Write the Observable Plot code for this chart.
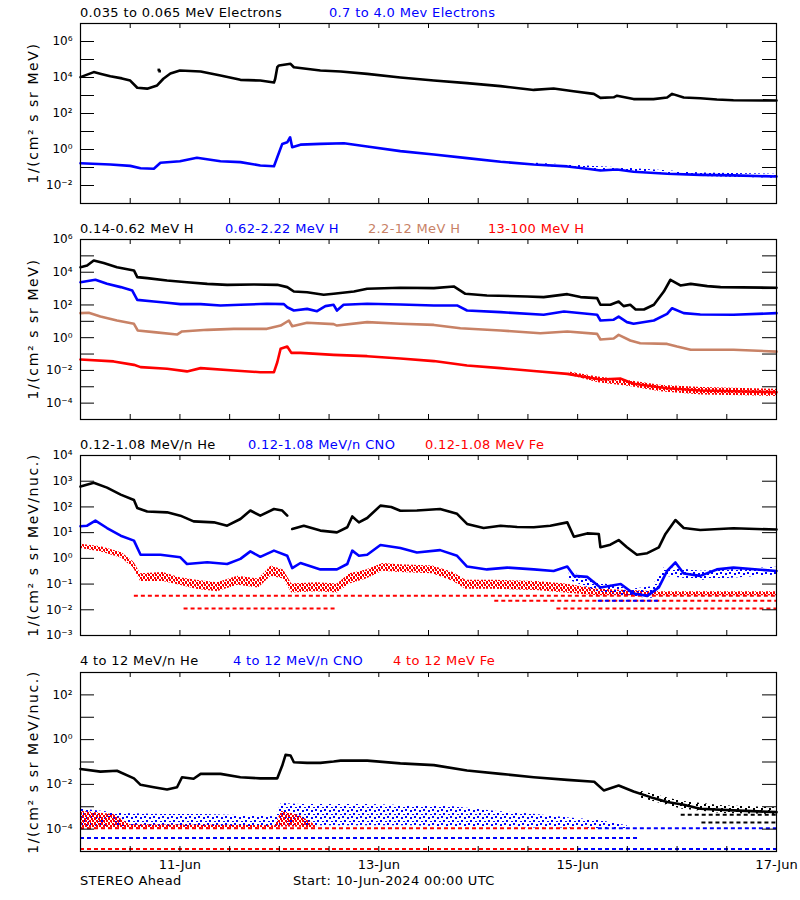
<!DOCTYPE html>
<html><head><meta charset="utf-8">
<script src="https://cdn.jsdelivr.net/npm/d3@7"></script>
<script src="https://cdn.jsdelivr.net/npm/@observablehq/plot@0.6"></script>
<style>
body{margin:0;background:#fff;font-family:"DejaVu Sans",sans-serif}
#chart{position:relative;width:800px;height:900px;overflow:hidden;background:#fff}
#chart svg.p{position:absolute;left:0}
.t{position:absolute;font-size:13px;line-height:16px;white-space:nowrap;letter-spacing:0.35px}
.yl{position:absolute;left:33px;font-size:14px;line-height:16px;white-space:nowrap;letter-spacing:1.6px;transform:translate(-50%,-50%) rotate(-90deg)}
</style></head><body>
<svg width="0" height="0" style="position:absolute">
 <defs>
  <pattern id="spRed" width="7" height="5" patternUnits="userSpaceOnUse">
   <rect x="0" y="0" width="2" height="2" fill="#ff0000"/><rect x="3" y="0" width="2" height="2" fill="#ff0000"/>
   <rect x="5" y="2" width="2" height="2" fill="#ff0000"/><rect x="1" y="2" width="2" height="2" fill="#ff0000"/>
   <rect x="3" y="4" width="2" height="1" fill="#ff0000"/><rect x="6" y="4" width="1" height="1" fill="#ff0000"/>
  </pattern>
  <pattern id="spBlue" width="9" height="7" patternUnits="userSpaceOnUse">
   <rect x="0" y="0" width="2" height="2" fill="#0000ff"/><rect x="5" y="1" width="2" height="2" fill="#0000ff"/>
   <rect x="2" y="4" width="2" height="2" fill="#0000ff"/><rect x="7" y="5" width="2" height="1" fill="#0000ff"/>
  </pattern>
  <pattern id="spBlack" width="8" height="6" patternUnits="userSpaceOnUse">
   <rect x="0" y="0" width="2" height="2" fill="#000"/><rect x="4" y="2" width="2" height="2" fill="#000"/>
   <rect x="1" y="4" width="2" height="2" fill="#000"/>
  </pattern>
 </defs>
</svg>
<div id="chart"></div>
<script>
// ---- colours ----
const BLACK = "#000000", BLUE = "#0000ff", BROWN = "#c88266", RED = "#ff0000";

// ---- x axis (hours since 10-Jun-2024 00:00 UTC) ----
const xTickHours = [12,24,36,48,60,72,84,96,108,120,132,144,156];
const xLabelHours = [24,72,120,168];
const xLabelText = ["11-Jun","13-Jun","15-Jun","17-Jun"];

// ---- titles ----
const titles1 = [["0.035 to 0.065 MeV Electrons",80,BLACK],["0.7 to 4.0 Mev Electrons",329,BLUE]];
const titles2 = [["0.14-0.62 MeV H",80,BLACK],["0.62-2.22 MeV H",225,BLUE],["2.2-12 MeV H",368,BROWN],["13-100 MeV H",488,RED]];
const titles3 = [["0.12-1.08 MeV/n He",80,BLACK],["0.12-1.08 MeV/n CNO",248,BLUE],["0.12-1.08 MeV Fe",425,RED]];
const titles4 = [["4 to 12 MeV/n He",80,BLACK],["4 to 12 MeV/n CNO",233,BLUE],["4 to 12 MeV Fe",393,RED]];

// ---- y axis exponents ----
const p1Domain = [-3,7], p1Labels = [6,4,2,0,-2], p1Decades = [-2,-1,0,1,2,3,4,5,6];
const p2Domain = [-5,6], p2Labels = [6,4,2,0,-2,-4], p2Decades = [-4,-3,-2,-1,0,1,2,3,4,5];
const p3Domain = [-3,4], p3Labels = [4,3,2,1,0,-1,-2,-3], p3Decades = [-2,-1,0,1,2,3];
const p4Domain = [-5,3], p4Labels = [2,0,-2,-4], p4Decades = [-4,-3,-2,-1,0,1,2];

// ---- series: [hour, log10 flux] ----
const elecLow = [[0,4.02],[3.2,4.3],[5,4.2],[7.2,4.07],[10,3.95],[12,3.83],[13.7,3.43],[16.1,3.38],[18.5,3.56],[20,3.93],[21.7,4.22],[24,4.39],[29,4.33],[33.8,4.11],[38.6,3.87],[43.4,3.83],[46.7,3.72],[47,3.93],[47.5,4.57],[47.9,4.67],[50.7,4.76],[51.5,4.57],[57.9,4.39],[62.8,4.33],[69.2,4.2],[77.2,4.0],[85.3,3.83],[93.3,3.69],[101.4,3.52],[109.4,3.31],[114.2,3.39],[119,3.24],[123.9,3.09],[125.5,2.87],[128.7,2.9],[129.5,2.99],[133.5,2.8],[138.3,2.8],[141.6,2.89],[142.8,3.09],[145.6,2.89],[149.6,2.85],[153.6,2.78],[157.6,2.74],[168,2.72]];
const elecLowSpike = [[18.9,4.42],[19.1,4.35]];
const elecHigh = [[0,-0.76],[7.2,-0.83],[12,-0.91],[14.5,-1.04],[17.7,-1.07],[19.3,-0.74],[24,-0.65],[28.1,-0.46],[33.8,-0.65],[38.6,-0.7],[43.4,-0.89],[46.7,-0.93],[47.5,-0.43],[48.7,0.31],[49.9,0.4],[50.6,0.68],[51.1,0.13],[53.1,0.27],[57.9,0.31],[63.6,0.35],[69.2,0.17],[77.2,-0.09],[85.3,-0.28],[93.3,-0.48],[101.4,-0.68],[109.4,-0.83],[117.5,-0.94],[122.3,-1.07],[125.5,-1.17],[129.5,-1.11],[133.5,-1.24],[141.6,-1.35],[149.6,-1.41],[157.6,-1.44],[168,-1.5]];
const elecHighSpread = [[110,-0.9,-0.76],[130,-1.22,-1.02],[150,-1.5,-1.3],[168,-1.6,-1.38]];

const h1 = [[0,4.31],[1.6,4.41],[3.2,4.72],[5.6,4.56],[8.8,4.31],[12.9,4.11],[13.7,3.7],[16.1,3.64],[20.9,3.49],[25.7,3.39],[30.6,3.29],[35.4,3.23],[41.8,3.25],[47.5,3.23],[49.9,3.09],[51.5,2.82],[54.7,2.78],[58.7,2.62],[61.1,2.68],[66,2.82],[69.2,2.99],[77.2,3.05],[85.3,3.03],[90.1,3.13],[92.9,2.68],[98.1,2.58],[107.8,2.52],[111.8,2.48],[117.5,2.66],[120.7,2.48],[124.7,2.42],[125.5,2.01],[127.9,2.01],[129.9,2.21],[131.1,1.93],[132.7,2.01],[134,1.72],[136,1.72],[138.4,2.01],[140.8,2.82],[142.4,3.54],[144.8,3.19],[147.3,3.29],[151.3,3.15],[154.5,3.09],[168,3.05]];
const h2 = [[0,3.39],[3.6,3.54],[6.4,3.29],[9.7,3.09],[12.5,2.88],[13.7,2.31],[17.7,2.21],[20.9,2.13],[24.1,2.05],[29,2.05],[33.8,1.97],[38.6,2.01],[45,2.07],[49.1,2.05],[49.9,1.86],[51.5,1.66],[54.7,1.76],[57.1,1.62],[59.1,1.93],[61.1,2.01],[61.9,1.66],[63.5,2.01],[69.2,2.07],[77.2,2.03],[85.3,1.97],[90.9,1.97],[93.3,1.66],[101.4,1.56],[111.8,1.4],[116.7,1.6],[124.7,1.4],[125.5,1.05],[128.7,1.1],[129.9,1.29],[131.9,0.95],[133.5,0.85],[138.4,1.05],[141.6,1.45],[142.8,1.8],[145.6,1.5],[149.6,1.42],[157.6,1.4],[168,1.5]];
const h3 = [[0,1.5],[2,1.52],[4.8,1.3],[8.8,1.05],[12.9,0.85],[13.8,0.44],[17.7,0.34],[23.3,0.19],[24.5,0.38],[30.6,0.48],[37,0.54],[45,0.54],[48.3,0.74],[50.3,1.05],[51.1,0.7],[54.7,0.91],[61.1,0.83],[61.9,0.74],[69.2,0.95],[77.2,0.85],[85.3,0.78],[91.7,0.58],[101.4,0.44],[111,0.27],[117.5,0.38],[124.7,0.23],[125.5,-0.11],[128.7,-0.05],[129.9,0.17],[132.7,-0.17],[135.1,-0.34],[141.6,-0.38],[144,-0.54],[147.3,-0.74],[157.6,-0.74],[168,-0.85]];
const h4 = [[0,-1.33],[8,-1.45],[12.9,-1.66],[14.5,-1.8],[20.9,-1.9],[25.7,-2.06],[29,-1.86],[37,-2.01],[43.4,-2.11],[46.7,-2.11],[47.5,-1.5],[48.3,-0.68],[49.9,-0.54],[50.9,-0.93],[53.1,-0.93],[61.1,-1.05],[69.2,-1.13],[77.2,-1.27],[85.3,-1.43],[93.3,-1.7],[101.4,-1.86],[109.4,-2.04],[117.5,-2.21],[125.5,-2.56],[130.4,-2.5],[133.5,-2.82],[141.6,-3.09],[149.6,-3.23],[157.6,-3.27],[168,-3.33]];
// scatter envelope of 13-100 MeV H: [hour, low, high]
const h4Spread = [[118,-2.3,-2.1],[125,-2.75,-2.4],[133,-3.0,-2.65],[140,-3.3,-2.9],[150,-3.5,-3.05],[160,-3.55,-3.1],[168,-3.6,-3.15]];

const heLow = [[0,2.79],[3.2,2.94],[6.4,2.75],[9.7,2.48],[12.9,2.27],[13.7,1.96],[16.1,1.82],[20.9,1.79],[24.1,1.66],[27.3,1.44],[32.2,1.4],[35.4,1.27],[38.6,1.53],[41,1.86],[43.4,1.66],[46.7,1.92],[48.7,1.86],[49.9,1.66],[50.5,null],[51.1,1.14],[53.9,1.27],[57.9,1.08],[61.9,1.01],[64.4,1.21],[65.6,1.63],[67.2,1.4],[69.2,1.57],[72.4,2.05],[75,2.0],[77.2,1.85],[81.2,1.86],[86.8,1.92],[90.9,1.73],[93.3,1.34],[97.3,1.18],[101.4,1.27],[105.4,1.22],[109.4,1.21],[113.4,1.27],[117.5,1.4],[119.1,0.84],[122.3,0.97],[125.1,0.95],[125.5,0.43],[127.9,0.53],[129.9,0.71],[131.9,0.43],[134.3,0.14],[136.8,0.2],[139.6,0.43],[141.2,0.95],[143.6,1.49],[145.6,1.18],[149.6,1.1],[157.6,1.17],[168,1.12]];
const cnoLow = [[0,1.25],[1.6,1.27],[3.6,1.47],[6.4,1.18],[9.7,0.88],[12.9,0.69],[14.5,0.14],[19.3,0.14],[24.1,0.04],[25.7,-0.22],[30.6,-0.15],[35.4,-0.22],[38.6,-0.02],[41,0.27],[43.4,0.06],[46.7,0.3],[49.9,0.1],[51.1,-0.38],[53.1,-0.18],[57.9,-0.43],[61.9,-0.43],[64.4,-0.22],[65.6,0.3],[67.2,0.1],[69.2,0.14],[72.4,0.52],[77.2,0.4],[81.2,0.23],[86.8,0.32],[90.9,0.1],[93.3,-0.32],[98.1,-0.43],[103,-0.36],[109.4,-0.43],[114.2,-0.49],[117.5,-0.32],[119.1,-0.68],[122.3,-0.72],[125.5,-1.13],[130.4,-1.0],[133.5,-1.37],[136.8,-1.46],[139.6,-1.13],[141.6,-0.49],[143.6,-0.16],[145.6,-0.59],[149.6,-0.68],[153.6,-0.43],[157.6,-0.36],[168,-0.49]];
// scatter envelope of 0.12-1.08 MeV Fe: [hour, low, high]
const feLow = [[0,0.38,0.55],[5,0.25,0.45],[10,0.0,0.22],[12.9,-0.4,-0.15],[14.5,-0.9,-0.6],[20,-0.9,-0.55],[24,-1.05,-0.75],[28,-1.2,-0.85],[33,-1.3,-0.95],[38,-1.05,-0.7],[43,-1.15,-0.8],[46,-0.7,-0.3],[49,-0.8,-0.45],[51,-1.35,-1.0],[57,-1.3,-0.95],[62,-1.35,-1.0],[65,-1.0,-0.6],[69,-0.8,-0.45],[73,-0.5,-0.2],[77,-0.55,-0.25],[85,-0.6,-0.3],[90,-0.9,-0.55],[93,-1.2,-0.85],[100,-1.2,-0.85],[110,-1.25,-0.9],[117,-1.35,-1.0],[125,-1.45,-1.2],[140,-1.45,-1.3],[168,-1.45,-1.3]];
const cnoLowSpread = [[118,-0.85,-0.5],[125,-1.3,-0.95],[133,-1.5,-1.2],[138,-1.55,-1.1],[141,-0.7,-0.35],[150,-0.85,-0.5],[168,-0.65,-0.35]];
// count-floor rows: [log10 level, from hour, to hour, colour]
const floors3 = [[-1.45,13,168,RED],[-1.65,100,168,RED],[-1.95,115,168,RED],[-1.95,25,62,RED],[-1.65,125,140,BLUE]];

const heHigh = [[0,-1.31],[4.8,-1.43],[8.8,-1.39],[12.9,-1.73],[14.5,-2.02],[17.7,-2.13],[20.9,-2.23],[23.3,-2.13],[24.5,-1.68],[27.3,-1.75],[29,-1.53],[33.8,-1.53],[38.6,-1.68],[43.4,-1.73],[47.5,-1.73],[48.7,-1.16],[49.5,-0.68],[50.7,-0.71],[51.5,-1.01],[54.7,-1.04],[57.9,-1.04],[61.1,-0.98],[62.8,-0.94],[69.2,-0.94],[77.2,-1.06],[85.3,-1.14],[93.3,-1.38],[101.4,-1.53],[109.4,-1.68],[117.5,-1.8],[124,-1.88],[126.3,-2.27],[129.9,-2.05],[133.5,-2.32],[137.6,-2.57],[141.6,-2.79],[145.6,-2.91],[149.6,-3.09],[157.6,-3.16],[168,-3.24]];
const heHighSpread = [[135,-2.6,-2.3],[145,-3.1,-2.75],[155,-3.3,-2.95],[168,-3.35,-3.05]];
const cnoHigh = [[0,-3.9,-3.1],[10,-3.9,-3.3],[20,-3.92,-3.35],[30,-3.9,-3.35],[40,-3.92,-3.4],[47,-3.92,-3.45],[48.5,-3.8,-2.85],[53,-3.85,-2.9],[60,-3.85,-2.9],[70,-3.85,-2.9],[80,-3.85,-2.95],[90,-3.9,-3.0],[100,-3.92,-3.2],[110,-3.95,-3.35],[118,-3.95,-3.5],[125,-3.97,-3.6],[132,-3.97,-3.85]];
const feHigh = [[0,-3.96,-3.2],[8,-3.96,-3.35],[12,-3.97,-3.8],[47,-3.97,-3.85],[48.5,-3.9,-3.2],[53,-3.92,-3.4],[57,-3.96,-3.85]];
const floors4 = [[-3.96,0,125,RED],[-3.96,125,168,BLUE],[-4.4,0,135,BLUE],[-4.89,0,168,BLUE],[-4.89,0,120,RED],[-3.36,145,168,BLACK],[-3.70,150,168,BLACK]];

// ---- helpers ----
const SUP = {"-":"\u207B","0":"\u2070","1":"\u00B9","2":"\u00B2","3":"\u00B3","4":"\u2074","5":"\u2075","6":"\u2076","7":"\u2077","8":"\u2078","9":"\u2079"};
const fmtPow = v => "10" + String(Math.round(Math.log10(v))).split("").map(c => SUP[c]).join("");
const pw = v => (v == null ? NaN : Math.pow(10, v));
const FW = 696;
const PAT = {[RED]: "url(#spRed)", [BLUE]: "url(#spBlue)", [BLACK]: "url(#spBlack)"};

function panel(c) {
  const fh = c.h - c.mt - c.mb;
  const marks = [];
  (c.bands || []).forEach(([data, color]) => marks.push(
    Plot.areaY(data, {x: d => d[0], y1: d => pw(d[1]), y2: d => pw(d[2]), fill: PAT[color], curve: "linear"})));
  (c.floors || []).length && marks.push(Plot.ruleY(c.floors, {y: d => pw(d[0]), x1: d => d[1], x2: d => d[2], stroke: d => d[3], strokeWidth: 2, strokeDasharray: "4,3"}));
  (c.lines || []).forEach(([data, color]) => marks.push(
    Plot.line(data, {x: d => d[0], y: d => pw(d[1]), stroke: color, strokeWidth: 2.6})));
  (c.dots || []).forEach(([data, color]) => marks.push(
    Plot.dot(data, {x: d => d[0], y: d => pw(d[1]), fill: color, r: 1.5, symbol: "square"})));
  marks.push(
    Plot.ruleY(c.decades.map(pw), {insetRight: FW - 14, stroke: BLACK, strokeWidth: 1}),
    Plot.ruleY(c.decades.map(pw), {insetLeft: FW - 14, stroke: BLACK, strokeWidth: 1}),
    Plot.ruleX(xTickHours, {insetTop: fh - 5, stroke: BLACK, strokeWidth: 1}),
    Plot.ruleX(xTickHours, {insetBottom: fh - 5, stroke: BLACK, strokeWidth: 1}),
    Plot.frame({stroke: BLACK, strokeWidth: 1.2}),
    Plot.axisY({ticks: c.labels.map(pw), tickFormat: fmtPow, tickSize: 0, tickPadding: 8, label: null, fontSize: 12})
  );
  if (c.xAxis) marks.push(Plot.axisX({ticks: xLabelHours, tickFormat: d => xLabelText[xLabelHours.indexOf(d)], tickSize: 0, tickPadding: 8, label: null, fontSize: 13}));
  const svg = Plot.plot({
    width: 800, height: c.h, marginLeft: 80, marginRight: 24, marginTop: c.mt, marginBottom: c.mb,
    x: {domain: [0, 168], axis: c.xAxis ? undefined : null},
    y: {type: "log", domain: c.domain.map(pw)},
    style: {fontFamily: "DejaVu Sans, sans-serif", background: "transparent", color: BLACK, overflow: "visible"},
    marks
  });
  svg.classList.add("p");
  svg.style.top = c.top + "px";
  return svg;
}

const root = document.getElementById("chart");
const Y1 = "1/(cm\u00B2 s sr MeV)", Y2 = "1/(cm\u00B2 s sr MeV/nuc.)";
const panels = [
  {top: 0, h: 216, mt: 23, mb: 13, domain: p1Domain, labels: p1Labels, decades: p1Decades, yLabel: Y1,
   bands: [[elecHighSpread, BLUE]], lines: [[elecLow, BLACK], [elecHigh, BLUE]], dots: [[elecLowSpike, BLACK]]},
  {top: 216, h: 216, mt: 23, mb: 13, domain: p2Domain, labels: p2Labels, decades: p2Decades, yLabel: Y1,
   bands: [[h4Spread, RED]], lines: [[h1, BLACK], [h2, BLUE], [h3, BROWN], [h4, RED]]},
  {top: 432, h: 216, mt: 23, mb: 13, domain: p3Domain, labels: p3Labels, decades: p3Decades, yLabel: Y2,
   bands: [[feLow, RED], [cnoLowSpread, BLUE]], floors: floors3, lines: [[heLow, BLACK], [cnoLow, BLUE]]},
  {top: 648, h: 252, mt: 24, mb: 49, domain: p4Domain, labels: p4Labels, decades: p4Decades, yLabel: Y2, xAxis: true,
   bands: [[cnoHigh, BLUE], [feHigh, RED], [heHighSpread, BLACK]], floors: floors4, lines: [[heHigh, BLACK]]}
];
panels.forEach(c => {
  root.append(panel(c));
  const d = document.createElement("div"); d.className = "yl"; d.textContent = c.yLabel;
  d.style.top = (c.top + c.mt + (c.h - c.mt - c.mb) / 2) + "px"; root.append(d);
});

[[titles1, 13], [titles2, 229], [titles3, 445], [titles4, 661]].forEach(([list, cy]) => list.forEach(([txt, x, col]) => {
  const d = document.createElement("div"); d.className = "t"; d.textContent = txt;
  d.style.left = x + "px"; d.style.top = (cy - 8) + "px"; d.style.color = col; root.append(d);
}));
const footer = [["STEREO Ahead", 80], ["Start: 10-Jun-2024 00:00 UTC", 293]];
footer.forEach(([txt, x]) => { const d = document.createElement("div"); d.className = "t"; d.textContent = txt; d.style.left = x + "px"; d.style.top = "873px"; root.append(d); });
</script></body></html>
